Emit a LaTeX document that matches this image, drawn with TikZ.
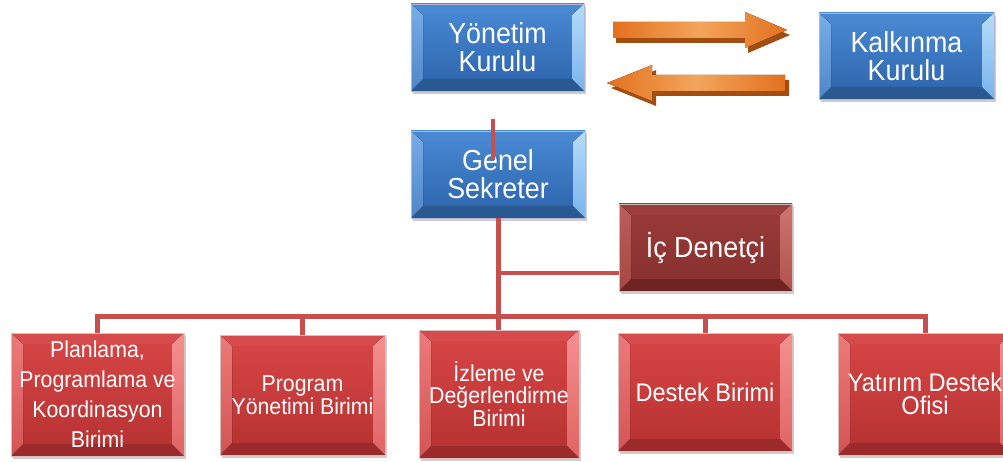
\documentclass[tikz,border=0pt]{standalone}
\usepackage{fontspec}
\setmainfont{Liberation Sans}[FakeStretch=0.925]
\usetikzlibrary{shadows,calc}
\definecolor{lineRed}{HTML}{C5504E}
\definecolor{arrOrange}{HTML}{E2711F}
\definecolor{arrLight}{HTML}{F3A55C}
\definecolor{arrShadow}{HTML}{A34E10}
\definecolor{HTML4C8BD5}{HTML}{4A8AD6}\definecolor{HTML2E65AA}{HTML}{2C63AA}
\definecolor{HTML79ADE6}{HTML}{79ADE6}\definecolor{HTML4F86C8}{HTML}{4F86C8}
\definecolor{HTMLB5DDFA}{HTML}{B5DDFA}\definecolor{HTML79B3EC}{HTML}{79B3EC}
\definecolor{HTML4A87D1}{HTML}{4A87D1}\definecolor{HTML2A5890}{HTML}{2A5890}
\definecolor{HTMLD84646}{HTML}{D84646}\definecolor{HTMLB53131}{HTML}{B53131}
\definecolor{HTMLEC7A7A}{HTML}{EC7A7A}\definecolor{HTMLD45454}{HTML}{D45454}
\definecolor{HTMLF59090}{HTML}{F59090}\definecolor{HTMLE06464}{HTML}{E06464}
\definecolor{HTMLD64C4C}{HTML}{D64C4C}\definecolor{HTML9C2A2A}{HTML}{9C2A2A}
\definecolor{HTML9A3B39}{HTML}{9A3B39}\definecolor{HTML86302E}{HTML}{86302E}
\definecolor{HTMLBC5E5A}{HTML}{BC5E5A}\definecolor{HTMLA44845}{HTML}{A44845}
\definecolor{HTMLCF7470}{HTML}{CF7470}\definecolor{HTMLB0524E}{HTML}{B0524E}
\definecolor{HTML9E3E3C}{HTML}{9E3E3C}\definecolor{HTML6E2422}{HTML}{6E2422}
\tikzset{
  boxbase/.style={rectangle, text=white, align=center, inner sep=1pt,
    drop shadow={shadow xshift=2pt, shadow yshift=-3pt, opacity=0.28, fill=black!70}},
  bevel/.style n args={6}{top color=#1, bottom color=#2,
    path picture={
      \path (path picture bounding box.south west) coordinate (bsw)
            (path picture bounding box.north west) coordinate (bnw)
            (path picture bounding box.north east) coordinate (bne)
            (path picture bounding box.south east) coordinate (bse);
      \fill[#5] (bnw) -- (bne) -- ([shift={(-12pt,-11pt)}]bne) -- ([shift={(12pt,-11pt)}]bnw) -- cycle;
      \fill[#6] (bsw) -- (bse) -- ([shift={(-12pt,12pt)}]bse) -- ([shift={(12pt,12pt)}]bsw) -- cycle;
      \fill[#3] (bsw) -- (bnw) -- ([shift={(12pt,-11pt)}]bnw) -- ([shift={(12pt,12pt)}]bsw) -- cycle;
      \fill[#4] (bse) -- (bne) -- ([shift={(-12pt,-11pt)}]bne) -- ([shift={(-12pt,12pt)}]bse) -- cycle;
    }},
  bluebox/.style={boxbase, draw=blue!20!white!70!gray, line width=0.6pt,
    bevel={HTML4C8BD5}{HTML2E65AA}{{top color=HTML79ADE6, bottom color=HTML4F86C8}}{{top color=HTMLB5DDFA, bottom color=HTML79B3EC}}{HTML4A87D1}{HTML2A5890}},
  redbox/.style={boxbase, draw=red!15!white!70!gray, line width=0.6pt,
    bevel={HTMLD84646}{HTMLB53131}{{top color=HTMLEC7A7A, bottom color=HTMLD45454}}{{top color=HTMLF59090, bottom color=HTMLE06464}}{HTMLD64C4C}{HTML9C2A2A}},
  darkbox/.style={boxbase, draw=red!10!white!60!gray, line width=0.6pt,
    bevel={HTML9A3B39}{HTML86302E}{{top color=HTMLBC5E5A, bottom color=HTMLA44845}}{{top color=HTMLCF7470, bottom color=HTMLB0524E}}{HTML9E3E3C}{HTML6E2422}},
  conn/.style={draw=lineRed, line width=5pt},
  thinconn/.style={draw=lineRed, line width=3.5pt},
  blockarrow/.style={left color=arrOrange, right color=arrOrange, middle color=arrLight},
  arrowshade/.style={fill=arrShadow}
}
\begin{document}
\begin{tikzpicture}[x=1pt,y=-1pt]
\useasboundingbox (0,0) rectangle (1003,462);
\clip (0,0) rectangle (1003,462);

% boxes
\node[bluebox, minimum width=173pt, minimum height=87pt, font=\fontsize{29}{28}\selectfont] (yk) at (497.5,47.5) {Yönetim\\Kurulu};
\node[bluebox, minimum width=175pt, minimum height=86pt, font=\fontsize{29}{28}\selectfont] (kk) at (906.5,56) {Kalkınma\\Kurulu};
\node[bluebox, minimum width=174pt, minimum height=87pt, font=\fontsize{29}{28}\selectfont] (gs) at (498,174.5) {Genel\\Sekreter};
\node[darkbox, minimum width=173pt, minimum height=87pt, font=\fontsize{29}{30}\selectfont] (ic) at (705.5,247.5) {İç Denetçi};
\node[redbox, minimum width=173pt, minimum height=123pt, font=\fontsize{23}{30}\selectfont] (p1) at (97.5,394.5) {Planlama,\\Programlama ve\\Koordinasyon\\Birimi};
\node[redbox, minimum width=165pt, minimum height=120pt, font=\fontsize{23}{22.5}\selectfont] (p2) at (302.5,395) {Program\\Yönetimi Birimi};
\node[redbox, minimum width=160pt, minimum height=128pt, font=\fontsize{23}{22.5}\selectfont] (p3) at (499,394) {İzleme ve\\Değerlendirme\\Birimi};
\node[redbox, minimum width=174pt, minimum height=118pt, font=\fontsize{25.5}{27}\selectfont] (p4) at (705,392) {Destek Birimi};
\node[redbox, minimum width=174pt, minimum height=122pt, font=\fontsize{25.5}{23}\selectfont] (p5) at (925,394) {Yatırım Destek\\Ofisi};

% block arrows between the boards
\fill[arrowshade] (616,27) -- (748,27) -- (748,17) -- (790,35) -- (748,53) -- (748,43) -- (616,43) -- cycle;
\fill[blockarrow] (613,22) -- (745,22) -- (745,12) -- (787,30) -- (745,48) -- (745,38) -- (613,38) -- cycle;
\fill[arrowshade] (789,80) -- (656,80) -- (656,70) -- (611,88) -- (656,106) -- (656,96) -- (789,96) -- cycle;
\fill[blockarrow] (785,75) -- (652,75) -- (652,65) -- (607,83) -- (652,101) -- (652,91) -- (785,91) -- cycle;

% connectors
\coordinate (t1) at (493,119);
\coordinate (t2) at (493,160);
\coordinate (br) at (498,273);
\coordinate (bus) at (0,316);
\draw[conn] (gs.south) -- (gs.south |- p3.north);
\draw[thinconn] (br) -- (br -| ic.west);
\draw[conn] (p1.north) -- (p1.north |- bus) -- (p5.north |- bus) -- (p5.north);
\draw[conn] (p2.north) -- (p2.north |- bus);
\draw[conn] (p4.north) -- (p4.north |- bus);
\draw[thinconn] (t1) -- (t2);
\end{tikzpicture}
\end{document}
